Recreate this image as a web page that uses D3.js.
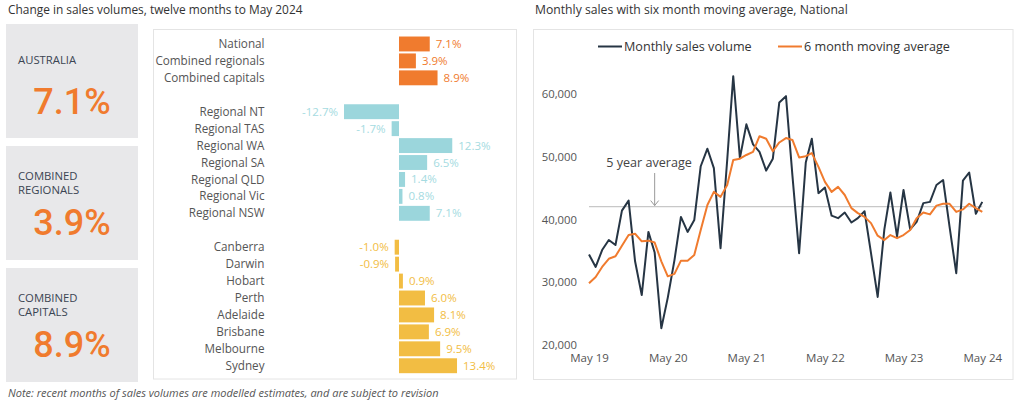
<!DOCTYPE html>
<html><head><meta charset="utf-8">
<script src="https://cdn.jsdelivr.net/npm/d3@7"></script>
<style>body{margin:0;background:#fff;} svg{display:block;font-family:'Open Sans',sans-serif;}</style>
</head><body>
<svg id="c" width="1024" height="402"></svg>
<script>
// ---------- data ----------
const summaryLabels = [["AUSTRALIA"], ["COMBINED", "REGIONALS"], ["COMBINED", "CAPITALS"]];
const summaryValues = [7.1, 3.9, 8.9];

const barCategories = ["National", "Combined regionals", "Combined capitals", "",
  "Regional NT", "Regional TAS", "Regional WA", "Regional SA", "Regional QLD", "Regional Vic", "Regional NSW", "",
  "Canberra", "Darwin", "Hobart", "Perth", "Adelaide", "Brisbane", "Melbourne", "Sydney"];
const barValues = [7.1, 3.9, 8.9, null,
  -12.7, -1.7, 12.3, 6.5, 1.4, 0.8, 7.1, null,
  -1.0, -0.9, 0.9, 6.0, 8.1, 6.9, 9.5, 13.4];
const barGroups = ["nat", "nat", "nat", null,
  "reg", "reg", "reg", "reg", "reg", "reg", "reg", null,
  "cap", "cap", "cap", "cap", "cap", "cap", "cap", "cap"];

const monthlySales = [34400, 32400, 35100, 36700, 35900, 41400, 43000, 33300, 27900, 38000,
  34700, 22600, 27500, 33500, 40400, 38000, 39900, 48500, 51300, 48200,
  35400, 49500, 62900, 49800, 55200, 52000, 50800, 47800, 49700, 58700,
  59700, 47000, 34600, 49100, 52900, 44200, 45100, 40600, 40200, 41100,
  39500, 40200, 41300, 34600, 27600, 38400, 44300, 37300, 44700, 38400,
  39600, 42600, 42800, 45500, 46300, 38800, 31400, 46200, 47500, 40900, 42800];
const movingAverage = [29800, 30800, 32400, 33700, 34100, 35800, 37500, 37700, 36500, 36600,
  36300, 33300, 30900, 31300, 33400, 33400, 34300, 38300, 42300, 44400,
  43600, 45500, 49500, 49700, 50300, 50800, 53300, 52900, 50900, 52300,
  53000, 52700, 49900, 50100, 50600, 48400, 46000, 44400, 45200, 43900,
  41800, 41000, 40400, 39400, 37400, 36700, 37500, 37000, 37500, 38300,
  40200, 41100, 40800, 42200, 42500, 42500, 41200, 41600, 42500, 41800, 41200];
const fiveYearAverage = 42050;
const yTicks = [20000, 30000, 40000, 50000, 60000];
const xTickLabels = ["May 19", "May 20", "May 21", "May 22", "May 23", "May 24"];
const seriesNames = ["Monthly sales volume", "6 month moving average"];

// ---------- styles ----------
const ORANGE = "#F07B2E", TEAL = "#9BD6DC", TEAL_T = "#A5DBE1", YELLOW = "#F2BD43", DARK = "#263544";
const barColor = {nat: ORANGE, reg: TEAL, cap: YELLOW};
const labColor = {nat: ORANGE, reg: TEAL_T, cap: YELLOW};

const svg = d3.select("#c");

// ---------- titles ----------
svg.append("text").attr("x", 8).attr("y", 14).attr("font-size", 11.9).attr("fill", "#333")
  .text("Change in sales volumes, twelve months to May 2024");
svg.append("text").attr("x", 535).attr("y", 14).attr("font-size", 12.2).attr("fill", "#333")
  .text("Monthly sales with six month moving average, National");
svg.append("text").attr("x", 8).attr("y", 397).attr("font-size", 11).attr("font-style", "italic").attr("fill", "#555")
  .text("Note: recent months of sales volumes are modelled estimates, and are subject to revision");

// ---------- summary boxes ----------
const boxY = d3.scaleBand().domain(d3.range(summaryValues.length)).range([24, 382]).paddingInner(8 / 122);
summaryValues.forEach((v, i) => {
  const g = svg.append("g").attr("transform", `translate(6,${boxY(i)})`);
  g.append("rect").attr("width", 132).attr("height", boxY.bandwidth()).attr("fill", "#E8E8EA");
  const lines = summaryLabels[i];
  const firstBase = lines.length === 1 ? 40 : 34;
  lines.forEach((t, j) => g.append("text").attr("x", 12).attr("y", firstBase + j * 14.3)
    .attr("font-size", 11.3).attr("font-weight", 500).attr("fill", "#3B4553").text(t));
  g.append("text").attr("x", 66).attr("y", lines.length === 1 ? 90 : 89).attr("text-anchor", "middle")
    .attr("font-family", "Roboto, sans-serif")
    .attr("font-size", 36).attr("font-weight", 500).attr("fill", ORANGE).text(d3.format(".1f")(v) + "%");
});

// ---------- bar panel ----------
svg.append("rect").attr("x", 153.5).attr("y", 29.5).attr("width", 363).attr("height", 349.5)
  .attr("fill", "#fff").attr("stroke", "#E4E4E4");

const bx = d3.scaleLinear().domain([-20, 20]).range([399 - 86.6, 399 + 86.6]);
const by = d3.scaleBand().domain(d3.range(barCategories.length)).range([35.5, 374.2])
  .paddingInner(0.12).paddingOuter(0.06);
const rows = barCategories.map((c, i) => ({c, v: barValues[i], g: barGroups[i], i})).filter(d => d.v !== null);

const bars = svg.append("g");
bars.selectAll("rect").data(rows).join("rect")
  .attr("x", d => bx(Math.min(0, d.v))).attr("width", d => Math.abs(bx(d.v) - bx(0)))
  .attr("y", d => by(d.i)).attr("height", by.bandwidth())
  .attr("fill", d => barColor[d.g]);
bars.selectAll("text.cat").data(rows).join("text").attr("class", "cat")
  .attr("x", 264.5).attr("y", d => by(d.i) + by.bandwidth() / 2).attr("dy", "0.35em")
  .attr("text-anchor", "end").attr("font-size", 11.7).attr("fill", "#555").text(d => d.c);
bars.selectAll("text.val").data(rows).join("text").attr("class", "val")
  .attr("x", d => d.v >= 0 ? bx(d.v) + 6 : bx(d.v) - 6)
  .attr("y", d => by(d.i) + by.bandwidth() / 2).attr("dy", "0.35em")
  .attr("text-anchor", d => d.v >= 0 ? "start" : "end")
  .attr("font-size", 11.5).attr("fill", d => labColor[d.g])
  .text(d => (d.v < 0 ? "-" : "") + d3.format(".1f")(Math.abs(d.v)) + "%");

// ---------- line panel ----------
svg.append("rect").attr("x", 533.5).attr("y", 29.5).attr("width", 479.5).attr("height", 350)
  .attr("fill", "#fff").attr("stroke", "#E4E4E4");

const start = new Date(2019, 4, 1);
const months = d3.timeMonth.range(start, d3.timeMonth.offset(start, monthlySales.length));
const lx = d3.scaleTime().domain([start, new Date(2024, 4, 1)]).range([589, 982.3]);
const ly = d3.scaleLinear().domain([20000, 60000]).range([344.5, 94.3]);

const yAxis = d3.axisLeft(ly).tickValues(yTicks).tickFormat(d3.format(",")).tickSize(0).tickPadding(0);
const gy = svg.append("g").attr("transform", "translate(577,0)").call(yAxis);
gy.select(".domain").remove();
gy.selectAll("text").attr("font-size", 11.3).attr("fill", "#555").attr("font-family", "'Open Sans',sans-serif");

const xTickDates = xTickLabels.map((_, i) => d3.timeYear.offset(start, i));
const xAxis = d3.axisBottom(lx).tickValues(xTickDates).tickFormat((d, i) => xTickLabels[i]).tickSize(0).tickPadding(0);
const gx = svg.append("g").attr("transform", "translate(0,354)").call(xAxis);
gx.select(".domain").remove();
gx.selectAll("text").attr("font-size", 11.5).attr("fill", "#555").attr("font-family", "'Open Sans',sans-serif");

// five-year average line
svg.append("line").attr("x1", lx(start)).attr("x2", lx(months[months.length - 1]))
  .attr("y1", ly(fiveYearAverage)).attr("y2", ly(fiveYearAverage))
  .attr("stroke", "#C8C8C8").attr("stroke-width", 1.2);

const line = d3.line().x((d, i) => lx(months[i])).y(d => ly(d));
svg.append("path").datum(monthlySales).attr("d", line).attr("fill", "none")
  .attr("stroke", DARK).attr("stroke-width", 2).attr("stroke-linejoin", "round");
svg.append("path").datum(movingAverage).attr("d", line).attr("fill", "none")
  .attr("stroke", ORANGE).attr("stroke-width", 2).attr("stroke-linejoin", "round");

// annotation
const ax = lx(months[10]);
svg.append("text").attr("x", 649).attr("y", 166.5).attr("text-anchor", "middle")
  .attr("font-size", 12.6).attr("fill", "#444").text("5 year average");
svg.append("line").attr("x1", ax).attr("x2", ax).attr("y1", 173).attr("y2", ly(fiveYearAverage) - 1)
  .attr("stroke", "#999").attr("stroke-width", 1);
svg.append("path").attr("d", `M${ax - 4},${ly(fiveYearAverage) - 6}L${ax},${ly(fiveYearAverage) - 1}L${ax + 4},${ly(fiveYearAverage) - 6}`)
  .attr("fill", "none").attr("stroke", "#999").attr("stroke-width", 1);

// legend
const legend = [{x: 598, c: DARK}, {x: 778, c: ORANGE}];
legend.forEach((l, i) => {
  svg.append("line").attr("x1", l.x).attr("x2", l.x + 24).attr("y1", 46.5).attr("y2", 46.5)
    .attr("stroke", l.c).attr("stroke-width", 2);
  svg.append("text").attr("x", l.x + 26).attr("y", 51).attr("font-size", 12.6).attr("fill", "#333").text(seriesNames[i]);
});
</script>
</body></html>
